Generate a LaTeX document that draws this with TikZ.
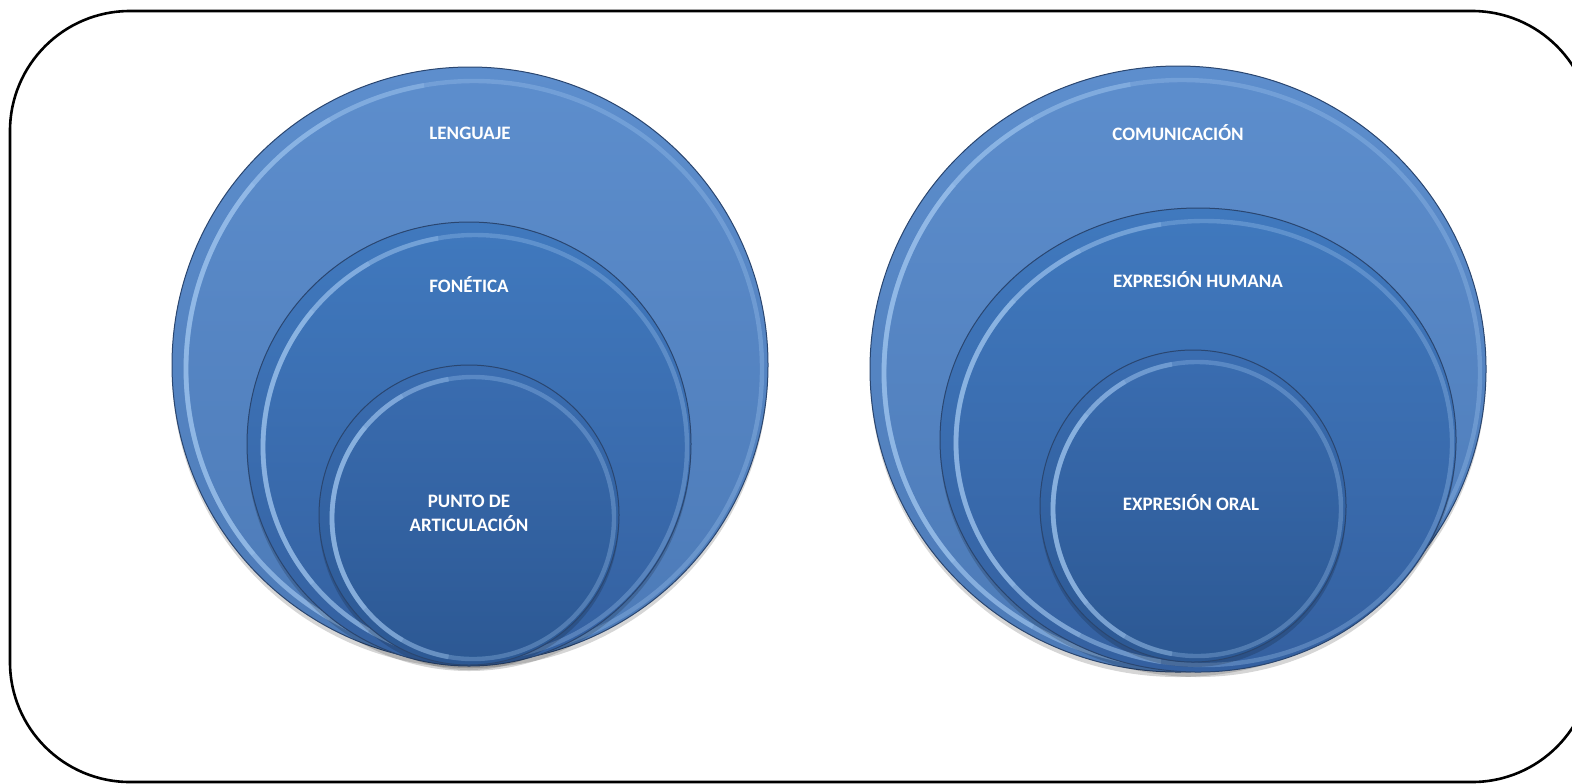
\documentclass[tikz,border=0pt]{standalone}
\usepackage{fontspec}
\setmainfont{Carlito}
\definecolor{outerA}{HTML}{5D8ECD}
\definecolor{outerB}{HTML}{4C7AB7}
\definecolor{midA}{HTML}{4079BE}
\definecolor{midB}{HTML}{3460A0}
\definecolor{innA}{HTML}{3A6DB1}
\definecolor{innB}{HTML}{2C5893}
\definecolor{rimblue}{HTML}{2A4670}
\definecolor{shineblue}{HTML}{A6CBF3}
\tikzset{
  rim/.style={draw=rimblue, line width=0.5pt},
  drop/.style={fill=black, opacity=0.16},
  shine/.style={draw=shineblue, line width=2.2pt, opacity=0.3},
  shinebright/.style={draw=shineblue, line width=2.4pt, opacity=0.28},
  bubtext/.style={text=white, font=\fontsize{9.5}{12}\selectfont\bfseries, align=center},
}

\begin{document}
\begin{tikzpicture}[x=0.5pt,y=-0.5pt]
      \clip (0,0) rectangle (1572,783);
      \draw[line width=1.3pt, rounded corners=60pt] (10,11) rectangle (1592,782);

      % left: lenguaje
      \fill[drop] (470,370) circle [radius=298];
      \shade[rim, top color=outerA, bottom color=outerB] (470,365) circle [radius=298];
      \draw[shine] (474,369) circle [radius=288];
      \foreach \a in {100,120,140}
        \draw[shinebright] (474,369) ++(\a:288) arc [start angle=\a, end angle=360-\a, radius=288];
      \fill[drop] (469,449) circle [radius=222];
      \shade[rim, top color=midA, bottom color=midB] (469,444) circle [radius=222];
      \draw[shine] (475,447) circle [radius=212];
      \foreach \a in {100,120,140}
        \draw[shinebright] (475,447) ++(\a:212) arc [start angle=\a, end angle=360-\a, radius=212];
      \fill[drop] (469,520) circle [radius=150];
      \shade[rim, top color=innA, bottom color=innB] (469,515) circle [radius=150];
      \draw[shine] (473,518) circle [radius=141];
      \foreach \a in {100,120,140}
        \draw[shinebright] (473,518) ++(\a:141) arc [start angle=\a, end angle=360-\a, radius=141];

      \node[bubtext] (lenguaje) at (470,133) {LENGUAJE};
      \node[bubtext] (fonetica) at (469,285) {FONÉTICA};
      \node[bubtext] (punto) at (469,513) {PUNTO DE\\ARTICULACIÓN};

      % right: comunicacion
      \fill[drop] (1178,374) ellipse [x radius=308, y radius=303];
      \shade[rim, top color=outerA, bottom color=outerB] (1178,369) ellipse [x radius=308, y radius=303];
      \draw[shine] (1182,373) ellipse [x radius=298, y radius=293];
      \foreach \a in {100,120,140}
        \draw[shinebright] (1182,373) ++(\a:298 and 293) arc [start angle=\a, end angle=360-\a, x radius=298, y radius=293];
      \fill[drop] (1198,445) ellipse [x radius=258, y radius=232];
      \shade[rim, top color=midA, bottom color=midB] (1198,440) ellipse [x radius=258, y radius=232];
      \draw[shine] (1204,443) ellipse [x radius=248, y radius=222];
      \foreach \a in {100,120,140}
        \draw[shinebright] (1204,443) ++(\a:248 and 222) arc [start angle=\a, end angle=360-\a, x radius=248, y radius=222];
      \fill[drop] (1193,511) ellipse [x radius=153, y radius=156];
      \shade[rim, top color=innA, bottom color=innB] (1193,506) ellipse [x radius=153, y radius=156];
      \draw[shine] (1197,509) ellipse [x radius=144, y radius=147];
      \foreach \a in {100,120,140}
        \draw[shinebright] (1197,509) ++(\a:144 and 147) arc [start angle=\a, end angle=360-\a, x radius=144, y radius=147];

      \node[bubtext] (comunicacion) at (1178,133) {COMUNICACIÓN};
      \node[bubtext] (exphumana) at (1198,280) {EXPRESIÓN HUMANA};
      \node[bubtext] (exporal) at (1191,503) {EXPRESIÓN ORAL};
\end{tikzpicture}
\end{document}
